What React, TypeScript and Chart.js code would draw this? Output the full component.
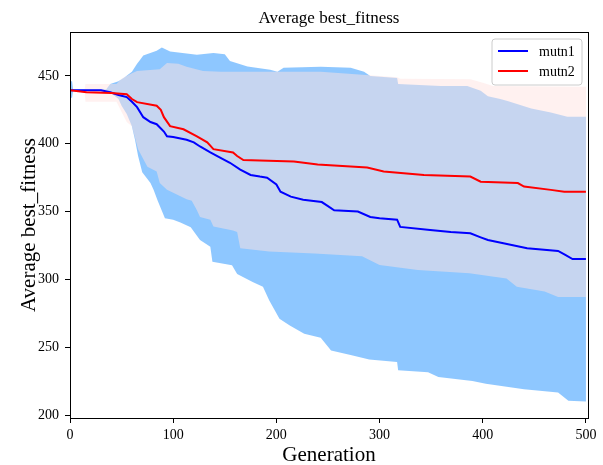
import React, { useEffect, useRef } from "react";
import { Chart, registerables } from "chart.js";

Chart.register(...registerables);

// ---- data ----
const mutn1MeanGen = [0, 30, 39, 47, 55, 60, 65, 71, 78, 84, 91, 94, 100, 113, 120, 126, 136, 145, 155, 165, 175, 184, 191, 200, 204, 214, 226, 244, 250, 256, 279, 291, 300, 317, 320, 349, 369, 388, 398, 405, 420, 443, 473, 480, 487, 500];
const mutn1Mean = [439.5, 439.5, 438, 436, 434.4, 431, 427, 419.6, 416, 414.4, 409, 405.5, 405, 403, 401, 398, 393.6, 390, 386, 381, 377, 375.8, 375, 370, 364.7, 361, 358.7, 357, 354, 351, 350, 346, 345, 344, 338.7, 336.5, 335, 334, 331, 329, 326.7, 323, 321, 318, 315, 315];

const mutn2MeanGen = [0, 16, 40, 55, 60, 65, 84, 88, 91, 97, 110, 123, 133, 139, 158, 162, 168, 184, 217, 240, 288, 304, 343, 388, 398, 434, 440, 466, 479, 500];
const mutn2Mean = [439.5, 438, 437.5, 436.5, 433, 430.7, 428, 425, 419.6, 413, 410.7, 405.5, 401, 396, 393.6, 391, 388, 387.7, 387, 384.7, 382.5, 379.5, 377, 375.8, 372, 371, 368.4, 366, 364.7, 364.7];

const mutn1UpperGen = [0, 2, 3, 35, 39, 47, 53, 60, 65, 68, 71, 84, 89, 97, 123, 139, 150, 155, 172, 194, 201, 207, 243, 272, 285, 291, 317, 318, 359, 385, 398, 405, 417, 424, 447, 466, 482, 500];
const mutn1Upper = [446, 446, 440, 440, 444, 446, 449, 453, 459, 462, 465, 468.5, 471, 468, 465.6, 467, 466, 461, 457, 454.5, 453, 456, 456.7, 456, 453, 450, 448.5, 444, 442.6, 442.6, 439, 435, 433, 431.5, 426, 423, 420, 420];

const mutn1LowerGen = [0, 2, 3, 37, 47, 50, 55, 60, 63, 66, 70, 78, 81, 85, 92, 100, 107, 117, 126, 136, 138, 157, 162, 177, 187, 193, 203, 213, 227, 243, 253, 273, 290, 317, 318, 347, 357, 390, 403, 440, 473, 483, 500];
const mutn1Lower = [434, 434, 439, 439, 433, 428, 422, 413, 403, 391, 379, 371, 366, 358, 345, 344, 342, 338.5, 329, 324, 313, 310.5, 304, 298, 294.5, 284.6, 271, 266, 260, 257, 247.5, 244, 241, 239, 233, 231.5, 228, 225, 223, 219, 216.6, 210.6, 210];

const mutn2UpperGen = [0, 14, 15, 45, 50, 60, 65, 87, 94, 105, 113, 129, 146, 243, 317, 320, 388, 400, 410, 500];
const mutn2Upper = [439.5, 439.5, 444, 444, 448, 452, 453.7, 455, 459.6, 459, 456.7, 453.7, 453, 453, 449, 448, 447.5, 445, 442.6, 442];

const mutn2LowerGen = [0, 14, 15, 45, 55, 60, 66, 75, 84, 87, 94, 113, 118, 123, 126, 136, 139, 158, 162, 165, 193, 237, 283, 300, 337, 387, 423, 433, 460, 473, 500];
const mutn2Lower = [439.5, 439.5, 431, 431, 416, 413, 396, 383, 379.5, 371, 366, 359, 358, 351, 346, 344, 339, 336, 335, 323, 320.5, 319, 317, 310.6, 307, 304.5, 300.7, 294.6, 291, 287, 287];

const seriesLabels = ["mutn1", "mutn2"];
const xTickValues = [0, 100, 200, 300, 400, 500];
const yTickValues = [200, 250, 300, 350, 400, 450];

const SERIF = "'Liberation Serif', 'Times New Roman', serif";

function pts(g: number[], v: number[]) {
  return g.map((x, i) => ({ x, y: v[i] }));
}

const overlayPlugin = {
  id: "overlay",
  afterDatasetsDraw(chart: any) {
    const { ctx, chartArea: ca } = chart;
    ctx.save();
    ctx.strokeStyle = "#000";
    ctx.lineWidth = 1;
    ctx.strokeRect(Math.round(ca.left) + 0.5, Math.round(ca.top) + 0.5, Math.round(ca.right - ca.left), Math.round(ca.bottom - ca.top));
    ctx.restore();
  },
  afterDraw(chart: any) {
    const { ctx, chartArea: ca } = chart;
    ctx.save();
    ctx.fillStyle = "#000";
    // title
    ctx.font = `17px ${SERIF}`;
    ctx.textAlign = "center";
    ctx.textBaseline = "alphabetic";
    const cx = (ca.left + ca.right) / 2;
    ctx.fillText("Average best_fitness", cx, ca.top - 9);
    // x label
    ctx.font = `21px ${SERIF}`;
    ctx.fillText("Generation", cx, 461);
    // y label
    ctx.save();
    ctx.translate(35, (ca.top + ca.bottom) / 2);
    ctx.rotate(-Math.PI / 2);
    ctx.fillText("Average best_fitness", 0, 0);
    ctx.restore();

    // legend
    const bw = 90, bh = 46;
    const bx = ca.right - 6 - bw;
    const by = ca.top + 7;
    ctx.beginPath();
    const r = 3;
    ctx.moveTo(bx + r, by);
    ctx.lineTo(bx + bw - r, by);
    ctx.arcTo(bx + bw, by, bx + bw, by + r, r);
    ctx.lineTo(bx + bw, by + bh - r);
    ctx.arcTo(bx + bw, by + bh, bx + bw - r, by + bh, r);
    ctx.lineTo(bx + r, by + bh);
    ctx.arcTo(bx, by + bh, bx, by + bh - r, r);
    ctx.lineTo(bx, by + r);
    ctx.arcTo(bx, by, bx + r, by, r);
    ctx.closePath();
    ctx.fillStyle = "rgba(255,255,255,0.8)";
    ctx.fill();
    ctx.strokeStyle = "#cccccc";
    ctx.lineWidth = 1;
    ctx.stroke();

    const ds = chart.data.datasets;
    const entries = seriesLabels.map((lab) => ds.find((d: any) => d.label === lab));
    ctx.font = `14px ${SERIF}`;
    ctx.textAlign = "left";
    ctx.textBaseline = "middle";
    entries.forEach((d: any, i: number) => {
      const y = by + 12 + i * 20;
      ctx.strokeStyle = d.borderColor;
      ctx.lineWidth = 2;
      ctx.beginPath();
      ctx.moveTo(bx + 6, y);
      ctx.lineTo(bx + 36, y);
      ctx.stroke();
      ctx.fillStyle = "#000";
      ctx.fillText(d.label, bx + 47, y + 1);
    });
    ctx.restore();
  },
};

export default function App() {
  const ref = useRef<HTMLCanvasElement | null>(null);
  useEffect(() => {
    if (!ref.current) return;
    const lineBase = { pointRadius: 0, pointHoverRadius: 0, tension: 0 };
    const chart = new Chart(ref.current, {
      type: "line",
      data: {
        datasets: [
          { ...lineBase, label: "mutn2", data: pts(mutn2MeanGen, mutn2Mean), borderColor: "#ff0000", borderWidth: 2, fill: false, order: 0 },
          { ...lineBase, label: "mutn1", data: pts(mutn1MeanGen, mutn1Mean), borderColor: "#0000ff", borderWidth: 2, fill: false, order: 1 },
          { ...lineBase, label: "mutn2 upper", data: pts(mutn2UpperGen, mutn2Upper), borderColor: "rgba(0,0,0,0)", borderWidth: 0, backgroundColor: "rgba(255,228,225,0.5)", fill: 3, order: 2 },
          { ...lineBase, label: "mutn2 lower", data: pts(mutn2LowerGen, mutn2Lower), borderColor: "rgba(0,0,0,0)", borderWidth: 0, fill: false, order: 2 },
          { ...lineBase, label: "mutn1 upper", data: pts(mutn1UpperGen, mutn1Upper), borderColor: "rgba(0,0,0,0)", borderWidth: 0, backgroundColor: "rgba(30,144,255,0.5)", fill: 5, order: 3 },
          { ...lineBase, label: "mutn1 lower", data: pts(mutn1LowerGen, mutn1Lower), borderColor: "rgba(0,0,0,0)", borderWidth: 0, fill: false, order: 3 },
        ],
      } as any,
      options: {
        animation: false,
        responsive: false,
        events: [],
        layout: { padding: { left: 0, right: 15, top: 32, bottom: 0 } },
        plugins: {
          legend: { display: false },
          title: { display: false },
          tooltip: { enabled: false },
          filler: { propagate: false },
        },
        scales: {
          x: {
            type: "linear",
            min: 0,
            max: 502,
            afterBuildTicks: (s: any) => { s.ticks = xTickValues.map((v) => ({ value: v })); },
            ticks: { autoSkip: false, maxRotation: 0, color: "#000", padding: 4, font: { family: SERIF, size: 14 } },
            grid: { drawOnChartArea: false, drawTicks: true, tickLength: 5, tickColor: "#000", tickWidth: 1 },
            border: { display: true, color: "#000", width: 1 },
            afterFit: (s: any) => { s.height = 47; },
          },
          y: {
            type: "linear",
            min: 197.8,
            max: 482.4,
            afterBuildTicks: (s: any) => { s.ticks = yTickValues.map((v) => ({ value: v })); },
            ticks: { autoSkip: false, color: "#000", padding: 6, font: { family: SERIF, size: 14 } },
            grid: { drawOnChartArea: false, drawTicks: true, tickLength: 5, tickColor: "#000", tickWidth: 1 },
            border: { display: true, color: "#000", width: 1 },
            afterFit: (s: any) => { s.width = 70; },
          },
        },
      } as any,
      plugins: [overlayPlugin],
    });
    return () => chart.destroy();
  }, []);
  return (
    <div style={{ position: "fixed", left: 0, top: 0, width: 603, height: 465, background: "#fff" }}>
      <canvas ref={ref} width={603} height={465} style={{ display: "block" }} />
    </div>
  );
}
